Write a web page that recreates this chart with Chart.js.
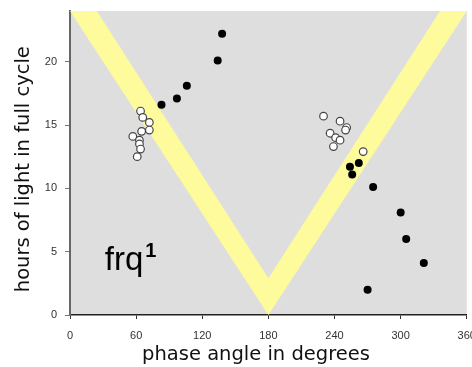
<!DOCTYPE html>
<html lang="en">
<head>
    <meta charset="UTF-8">
    <title>frq1 light cycle</title>
    <script src="https://cdn.jsdelivr.net/npm/chart.js@4.4.1/dist/chart.umd.min.js"></script>
</head>
<style>
    body {
        margin: 0;
        padding: 0;
        background-color: #ffffff;
    }

    .container {
        width: 472px;
        height: 367px;
    }
</style>
<body>
    <div class="container">
        <canvas id="phaseChart" width="472" height="367"></canvas>
    </div>

    <script>
        // open circles
        const openPhase = [64, 66, 72, 72, 65, 57, 63, 63, 64, 61, 230, 245, 251, 250, 236, 241, 245, 239, 266];
        const openHours = [16.1, 15.6, 15.2, 14.6, 14.5, 14.1, 13.8, 13.5, 13.1, 12.5, 15.7, 15.3, 14.8, 14.6, 14.35, 14.0, 13.8, 13.3, 12.9];

        // filled circles
        const filledPhase = [83, 97, 106, 134, 138, 254, 256, 262, 275, 270, 300, 305, 321];
        const filledHours = [16.6, 17.1, 18.1, 20.1, 22.2, 11.7, 11.1, 12.0, 10.1, 2.0, 8.1, 6.0, 4.1];

        // yellow V band (outer and inner edge)
        const bandPhase = [0, 180, 360];
        const bandOuterHours = [24, 0, 24];
        const bandInnerHours = [27.3, 2.9, 27.3];

        const toPoints = (xs, ys) => xs.map((x, i) => ({ x: x, y: ys[i] }));

        const tickFont = { family: "'Liberation Sans Narrow', 'Liberation Sans', Arial, sans-serif", size: 11 };
        const titleFont = { family: "'DejaVu Sans', sans-serif", size: 19.5 };

        const plotBackground = {
            id: 'plotBackground',
            beforeDraw(chart) {
                const { ctx, chartArea } = chart;
                ctx.save();
                ctx.fillStyle = '#dedede';
                ctx.fillRect(chartArea.left, chartArea.top, chartArea.right - chartArea.left, chartArea.bottom - chartArea.top);
                ctx.restore();
            }
        };

        const strainLabel = {
            id: 'strainLabel',
            afterDraw(chart) {
                const { ctx } = chart;
                const x = chart.scales.x.getPixelForValue(31.5);
                const y = chart.scales.y.getPixelForValue(3.55);
                ctx.save();
                ctx.fillStyle = '#000000';
                ctx.textBaseline = 'alphabetic';
                ctx.font = "33px 'Liberation Sans', Arial, sans-serif";
                ctx.fillText('frq', x, y);
                const w = ctx.measureText('frq').width;
                ctx.font = "bold 20px 'Liberation Sans', Arial, sans-serif";
                ctx.fillText('1', x + w + 2, y - 13);
                ctx.restore();
            }
        };

        const ctx = document.getElementById('phaseChart').getContext('2d');

        new Chart(ctx, {
            type: 'scatter',
            data: {
                datasets: [
                    {
                        data: toPoints(bandPhase, bandInnerHours),
                        showLine: true,
                        borderWidth: 0,
                        borderColor: 'rgba(0,0,0,0)',
                        pointRadius: 0,
                        fill: false,
                        order: 2
                    },
                    {
                        data: toPoints(bandPhase, bandOuterHours),
                        showLine: true,
                        borderWidth: 0,
                        borderColor: 'rgba(0,0,0,0)',
                        backgroundColor: '#fdfb9b',
                        pointRadius: 0,
                        fill: '-1',
                        order: 2
                    },
                    {
                        data: toPoints(openPhase, openHours),
                        pointRadius: 3.8,
                        pointBackgroundColor: '#ffffff',
                        pointBorderColor: '#444444',
                        pointBorderWidth: 1.2,
                        order: 1
                    },
                    {
                        data: toPoints(filledPhase, filledHours),
                        pointRadius: 4,
                        pointBackgroundColor: '#000000',
                        pointBorderColor: '#000000',
                        pointBorderWidth: 0,
                        order: 0
                    }
                ]
            },
            options: {
                responsive: false,
                animation: false,
                events: [],
                layout: {
                    padding: { top: 11, right: 4, left: 0, bottom: 0 }
                },
                plugins: {
                    legend: { display: false },
                    tooltip: { enabled: false }
                },
                scales: {
                    x: {
                        type: 'linear',
                        min: 0,
                        max: 360,
                        ticks: {
                            stepSize: 60,
                            padding: 10,
                            color: '#333333',
                            font: tickFont,
                            maxRotation: 0
                        },
                        grid: {
                            drawOnChartArea: false,
                            drawTicks: true,
                            tickLength: 4,
                            color: '#333333'
                        },
                        border: { display: true, color: '#222222', width: 1.5 },
                        title: {
                            display: true,
                            // trailing spaces nudge the centred title left, as in the original
                            text: 'phase angle in degrees    ',
                            color: '#111111',
                            font: titleFont,
                            padding: { top: 0, bottom: 0 }
                        },
                        afterFit(scale) {
                            scale.height = 52;
                            scale.paddingLeft = 0;
                            scale.paddingRight = 0;
                        }
                    },
                    y: {
                        type: 'linear',
                        min: 0,
                        max: 24,
                        ticks: {
                            stepSize: 5,
                            includeBounds: false,
                            padding: 8,
                            color: '#333333',
                            font: tickFont
                        },
                        grid: {
                            drawOnChartArea: false,
                            drawTicks: true,
                            tickLength: 5,
                            color: '#777777'
                        },
                        border: { display: true, color: '#666666', width: 2 },
                        title: {
                            display: true,
                            text: 'hours of light in full cycle  ',
                            color: '#111111',
                            font: titleFont,
                            padding: { top: 12, bottom: 0 }
                        },
                        afterFit(scale) {
                            scale.width = 70;
                            scale.paddingTop = 0;
                            scale.paddingBottom = 0;
                        }
                    }
                }
            },
            plugins: [plotBackground, strainLabel]
        });
    </script>
</body>
</html>
